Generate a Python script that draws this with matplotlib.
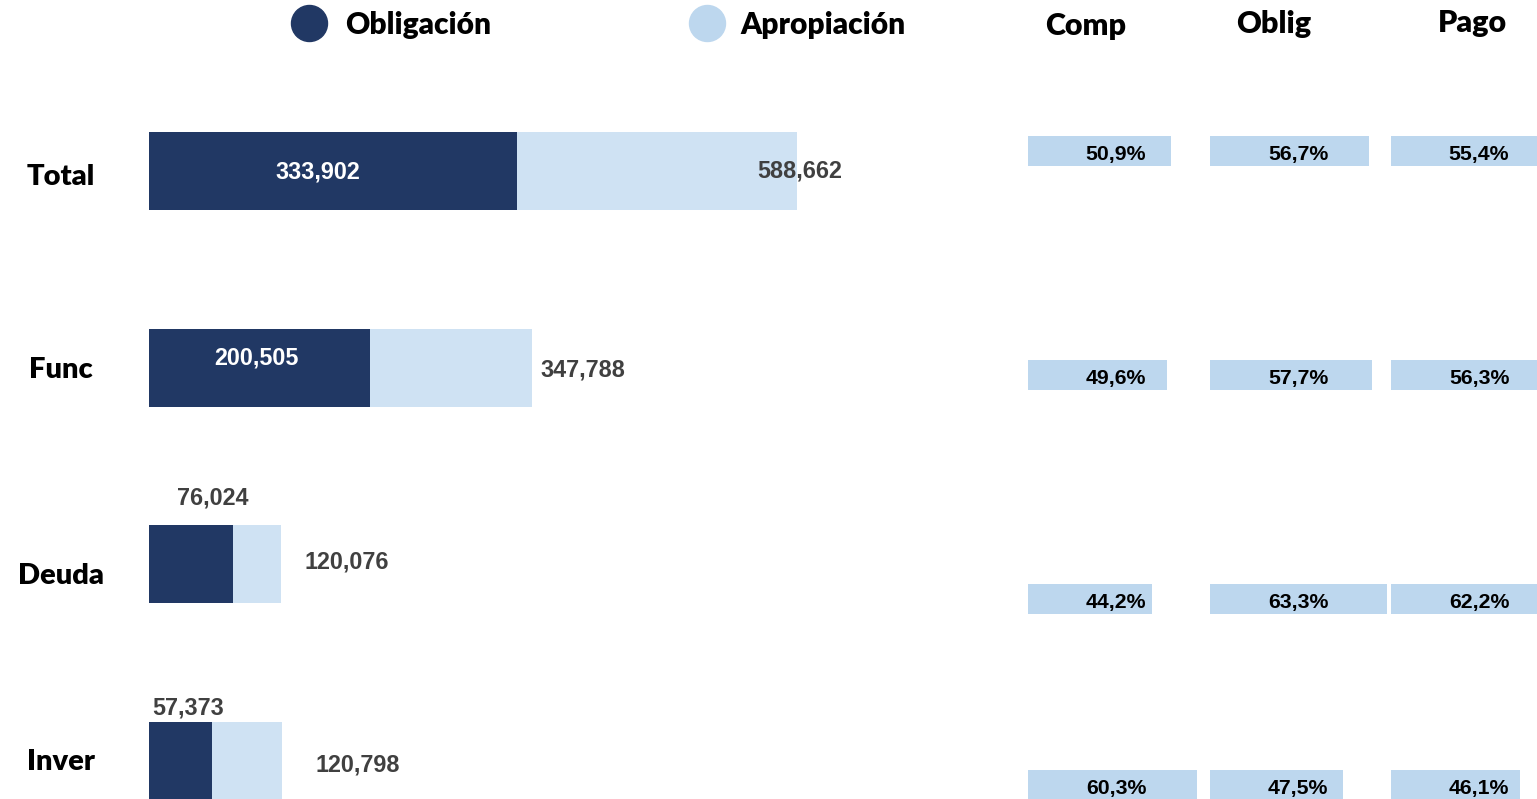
import matplotlib
matplotlib.use("Agg")
import matplotlib.pyplot as plt
import matplotlib.transforms as mtransforms
from matplotlib.lines import Line2D

# ---------------- data ----------------
categories = ["Total", "Func", "Deuda", "Inver"]
obligacion = [333902, 200505, 76024, 57373]
apropiacion = [588662, 347788, 120076, 120798]
columns = ["Comp", "Oblig", "Pago"]
comp_pct = [50.9, 49.6, 44.2, 60.3]
oblig_pct = [56.7, 57.7, 63.3, 47.5]
pago_pct = [55.4, 56.3, 62.2, 46.1]

# ---------------- style / layout ----------------
DARK = "#213864"
LIGHT = "#CFE2F3"
RBAR = "#BDD7EE"
GREY = "#404040"
W, H = 1537, 799
fig = plt.figure(figsize=(W / 100, H / 100), dpi=100)
PT = 0.72  # points per pixel at dpi 100


def axes_px(x0, y0, w, h):
    a = fig.add_axes([x0 / W, 1 - (y0 + h) / H, w / W, h / H])
    a.set_axis_off()
    return a


def fmt(v):
    return f"{v:,}"


def pct(v):
    return f"{v:.1f}%".replace(".", ",")


num_font = ["Liberation Sans", "DejaVu Sans"]
head_font = ["Lato", "DejaVu Sans"]
HEAD_W = "heavy"

# left panel
ax = axes_px(149, 0, 800, 799)
scale = 0.0011008  # px per unit
ax.set_xlim(0, 800 / scale)
row_px = 196.5
ax.set_ylim((799 - 171) / row_px, -171 / row_px)
ypos = list(range(len(categories)))
bh = 78 / row_px
ax.barh(ypos, apropiacion, height=bh, color=LIGHT, zorder=1)
ax.barh(ypos, obligacion, height=bh, color=DARK, zorder=2)

# label placements (offsets in pixels)
inside = [True, True, False, False]
dark_off = [(-15, -1), (-3, 9), (22, 66), (8, 53)]     # relative to centre of dark bar
light_off = [(3, 0), (51, -2), (66, 2), (76, -4.5)]    # relative to end of light bar
for i in ypos:
    dx, dy = dark_off[i]
    ax.annotate(fmt(obligacion[i]), xy=(obligacion[i] / 2, i), xytext=(dx * PT, dy * PT),
                textcoords="offset points", ha="center", va="center",
                color="white" if inside[i] else GREY, fontsize=16.8, fontweight="bold",
                family=num_font, zorder=3)
    lx, ly = light_off[i]
    ax.annotate(fmt(apropiacion[i]), xy=(apropiacion[i], i), xytext=(lx * PT, ly * PT),
                textcoords="offset points", ha="center", va="center",
                color=GREY, fontsize=16.8, fontweight="bold", family=num_font, zorder=3)

# category labels
cat_dy = [-6, -3, -12, -2]
tr = mtransforms.blended_transform_factory(fig.transFigure, ax.transData)
for i, c in enumerate(categories):
    ax.annotate(c, xy=(61 / W, i), xycoords=tr, xytext=(0, cat_dy[i] * PT),
                textcoords="offset points", ha="center", va="center",
                fontsize=21, fontweight=HEAD_W, family=head_font, color="black")

# right panels
col_start = [1028, 1210, 1391]
head_pos = [(1086, 26), (1274, 24), (1472, 23)]
right_row_y = [151, 375, 599, 785]
pct_data = [comp_pct, oblig_pct, pago_pct]
for j, col in enumerate(columns):
    rax = axes_px(col_start[j], 0, 280, 799)
    rax.set_xlim(0, 100)
    rax.set_ylim(799, 0)
    rax.barh(right_row_y, pct_data[j], height=30, color=RBAR)
    for k, v in enumerate(pct_data[j]):
        rax.text(88 / 2.8, right_row_y[k] + 3.5, pct(v), ha="center", va="center",
                 fontsize=15.3, fontweight="bold", family=num_font, color="black")
    hx, hy = head_pos[j]
    fig.text(hx / W, 1 - hy / H, col, ha="center", va="center", fontsize=22,
             fontweight=HEAD_W, family=head_font, color="black")

# legend
leg_items = [("Obligación", DARK, 309, 345), ("Apropiación", RBAR, 707, 740)]
for lab, colr, mx, tx in leg_items:
    fig.add_artist(Line2D([mx / W], [1 - 23 / H], transform=fig.transFigure, marker="o",
                          markersize=36 * PT, color=colr, linestyle="none"))
    fig.text(tx / W, 1 - 25 / H, lab, ha="left", va="center", fontsize=21.5,
             fontweight=HEAD_W, family=head_font, color="black")

fig.savefig("out.png", dpi=100)
